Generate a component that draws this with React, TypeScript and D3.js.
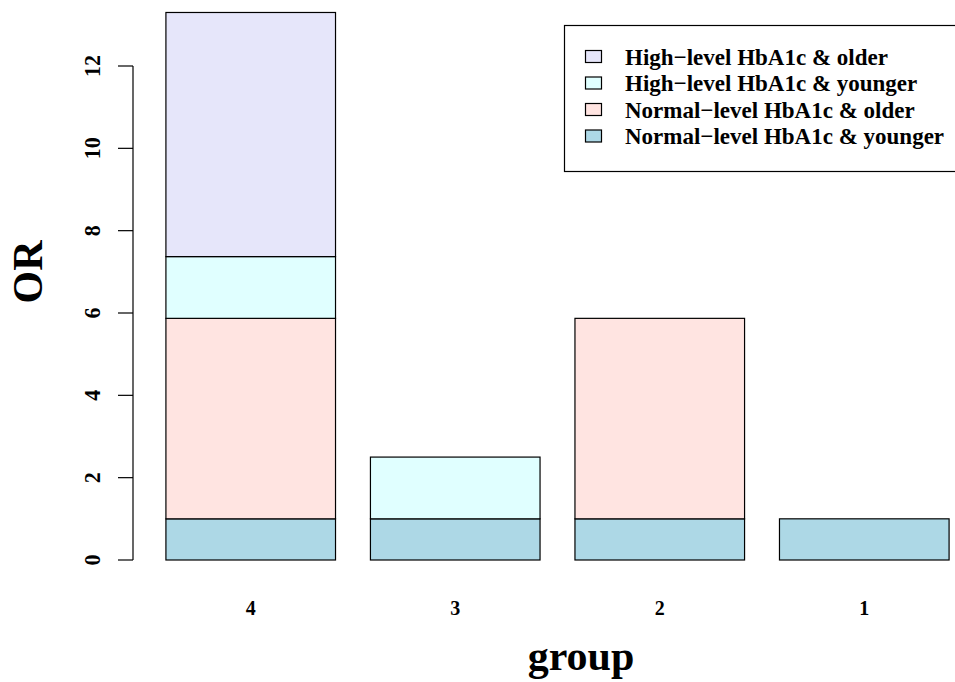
import React, { useEffect, useRef } from 'react';
import * as d3 from 'd3';

const groups = ['4', '3', '2', '1'];
const seriesNames = [
  'Normal−level HbA1c & younger',
  'Normal−level HbA1c & older',
  'High−level HbA1c & younger',
  'High−level HbA1c & older',
];
const seriesColors = ['#ADD8E6', '#FFE4E1', '#E0FFFF', '#E6E6FA'];
// segment heights per group (order 4,3,2,1)
const normalYounger = [1, 1, 1, 1];
const normalOlder = [4.87, 0, 4.87, 0];
const highYounger = [1.5, 1.5, 0, 0];
const highOlder = [5.93, 0, 0, 0];
const yTicks = [0, 2, 4, 6, 8, 10, 12];

const FONT = '"Liberation Serif", "Times New Roman", serif';

const App = () => {
  const ref = useRef<SVGSVGElement>(null);

  useEffect(() => {
    const svg = d3.select(ref.current);
    svg.selectAll('*').remove();

    const rows = groups.map((g, i) => ({
      group: g,
      s0: normalYounger[i],
      s1: normalOlder[i],
      s2: highYounger[i],
      s3: highOlder[i],
    }));
    const stacked = d3.stack<any>().keys(['s0', 's1', 's2', 's3'])(rows);

    const x = d3.scaleBand()
      .domain(groups)
      .range([131, 984])
      .paddingInner(35 / 205)
      .paddingOuter(35 / 205);

    const y = d3.scaleLinear().domain([0, 12]).range([560, 66]);

    // bars
    stacked.forEach((layer, k) => {
      svg.append('g')
        .selectAll('rect')
        .data(layer.filter(d => d[1] - d[0] > 0))
        .enter().append('rect')
        .attr('x', d => x(d.data.group) as number)
        .attr('width', x.bandwidth())
        .attr('y', d => y(d[1]))
        .attr('height', d => y(d[0]) - y(d[1]))
        .attr('fill', seriesColors[k])
        .attr('stroke', '#000')
        .attr('stroke-width', 1.2);
    });

    // y axis
    const ax = svg.append('g').attr('transform', 'translate(133,0)');
    ax.append('line')
      .attr('x1', 0).attr('x2', 0)
      .attr('y1', y(0)).attr('y2', y(12))
      .attr('stroke', '#000').attr('stroke-width', 1.2);
    ax.selectAll('.tick')
      .data(yTicks)
      .enter().append('line')
      .attr('x1', -15).attr('x2', 0)
      .attr('y1', d => y(d)).attr('y2', d => y(d))
      .attr('stroke', '#000').attr('stroke-width', 1.2);
    ax.selectAll('.tlab')
      .data(yTicks)
      .enter().append('text')
      .attr('transform', d => `translate(-33,${y(d)}) rotate(-90) scale(1,1.08)`)
      .attr('text-anchor', 'middle')
      .attr('font-family', FONT)
      .attr('font-weight', 'bold')
      .attr('font-size', 22)
      .text(d => d);

    svg.append('text')
      .attr('transform', `translate(42,272) rotate(-90)`)
      .attr('text-anchor', 'middle')
      .attr('font-family', FONT)
      .attr('font-weight', 'bold')
      .attr('font-size', 42)
      .text('OR');

    // x labels
    svg.selectAll('.xlab')
      .data(groups)
      .enter().append('text')
      .attr('x', d => (x(d) as number) + x.bandwidth() / 2)
      .attr('y', 615)
      .attr('text-anchor', 'middle')
      .attr('font-family', FONT)
      .attr('font-weight', 'bold')
      .attr('font-size', 20)
      .text(d => d);

    svg.append('text')
      .attr('x', 581)
      .attr('y', 670)
      .attr('text-anchor', 'middle')
      .attr('font-family', FONT)
      .attr('font-weight', 'bold')
      .attr('font-size', 42)
      .text('group');

    // legend
    const lg = svg.append('g');
    lg.append('rect')
      .attr('x', 564.5).attr('y', 25.5)
      .attr('width', 400).attr('height', 146)
      .attr('fill', '#fff').attr('stroke', '#000').attr('stroke-width', 1.2);
    const legendOrder = [3, 2, 1, 0];
    legendOrder.forEach((k, i) => {
      const cy = 56.5 + i * 26.5;
      lg.append('rect')
        .attr('x', 585.5).attr('y', cy - 6)
        .attr('width', 16).attr('height', 12)
        .attr('fill', seriesColors[k])
        .attr('stroke', '#000').attr('stroke-width', 1.2);
      lg.append('text')
        .attr('x', 625).attr('y', cy + 8)
        .attr('font-family', FONT)
        .attr('font-weight', 'bold')
        .attr('font-size', 23)
        .text(seriesNames[k]);
    });
  }, []);

  return (
    <svg
      ref={ref}
      width={955}
      height={682}
      style={{ position: 'absolute', left: 0, top: 0, background: '#fff' }}
    />
  );
};

export default App;
